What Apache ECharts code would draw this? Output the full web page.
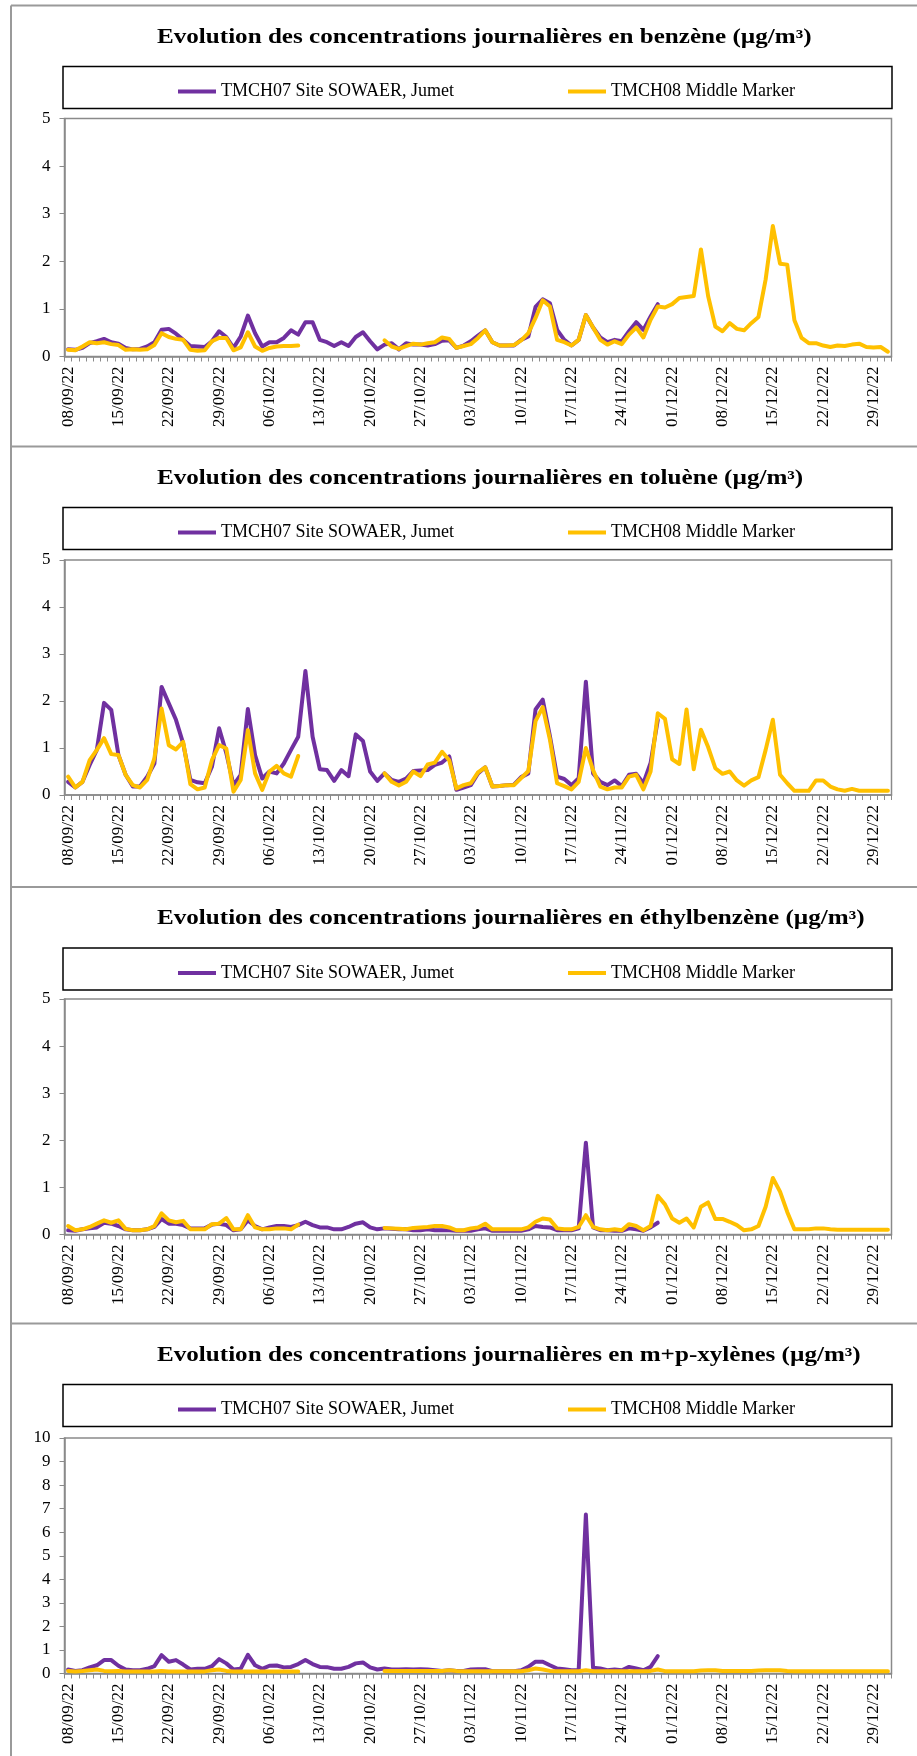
<!DOCTYPE html>
<html>
<head>
<meta charset="utf-8">
<script src="https://cdn.jsdelivr.net/npm/echarts@6/dist/echarts.min.js"></script>
<style>
  html, body { margin: 0; padding: 0; background: #ffffff; }
  #chart { width: 917px; height: 1756px; }
</style>
</head>
<body>
<div id="chart"></div>
<script>
// Daily concentrations (µg/m³), 08/09/22 to 31/12/22
const startDate = [2022, 8, 8];   // year, month index, day
const dayCount = 115;

const stationNames = ['TMCH07 Site SOWAER, Jumet', 'TMCH08 Middle Marker'];

const titles = [
  'Evolution des concentrations journalières en benzène (µg/m³)',
  'Evolution des concentrations journalières en toluène (µg/m³)',
  'Evolution des concentrations journalières en éthylbenzène (µg/m³)',
  'Evolution des concentrations journalières en m+p-xylènes (µg/m³)'
];

const yMax = [5, 5, 5, 10];

// ---- benzène ----
const benzeneJumet = [
  0.15,0.14,0.18,0.28,0.32,0.37,0.30,0.27,0.18,0.15,
  0.16,0.21,0.30,0.56,0.58,0.48,0.35,0.22,0.21,0.20,
  0.32,0.53,0.41,0.18,0.42,0.86,0.49,0.21,0.30,0.30,
  0.39,0.55,0.46,0.72,0.72,0.35,0.30,0.22,0.30,0.22,
  0.41,0.51,0.32,0.15,0.25,0.28,0.15,0.28,0.25,0.25,
  0.23,0.26,0.33,0.34,0.18,0.23,0.32,0.44,0.55,0.30,
  0.23,0.23,0.23,0.35,0.42,1.04,1.20,1.12,0.56,0.35,
  0.23,0.35,0.87,0.61,0.40,0.30,0.35,0.32,0.53,0.72,
  0.56,0.84,1.10
];
const benzeneMiddle = [
  0.14,0.13,0.21,0.30,0.28,0.30,0.26,0.24,0.14,0.15,
  0.14,0.15,0.24,0.49,0.41,0.37,0.35,0.14,0.12,0.13,
  0.32,0.39,0.39,0.13,0.19,0.51,0.21,0.12,0.18,0.21,
  0.22,0.22,0.23,
  null,null,null,null,null,null,null,null,null,null,null,
  0.34,0.21,0.16,0.22,0.27,0.25,0.28,0.30,0.40,0.37,0.18,0.22,0.26,0.39,
  0.55,0.30,0.23,0.23,0.24,0.34,0.49,0.81,1.18,1.05,
  0.35,0.30,0.23,0.35,0.87,0.61,0.35,0.25,0.32,0.26,
  0.46,0.61,0.40,0.77,1.05,1.03,1.10,1.23,1.25,1.27,
  2.25,1.27,0.63,0.53,0.70,0.58,0.55,0.70,0.83,1.62,
  2.74,1.95,1.93,0.76,0.39,0.28,0.28,0.23,0.20,0.23,
  0.22,0.25,0.27,0.20,0.19,0.20,0.10
];

// ---- toluène ----
const tolueneJumet = [
  0.28,0.16,0.28,0.64,0.96,1.96,1.81,0.85,0.43,0.18,
  0.18,0.39,0.67,2.30,1.95,1.60,1.10,0.32,0.27,0.25,
  0.60,1.42,0.89,0.21,0.43,1.83,0.85,0.35,0.50,0.46,
  0.67,0.96,1.24,2.64,1.24,0.55,0.53,0.30,0.53,0.40,
  1.29,1.15,0.50,0.30,0.46,0.32,0.28,0.35,0.51,0.52,
  0.53,0.64,0.69,0.82,0.11,0.16,0.21,0.46,0.59,0.18,
  0.19,0.21,0.22,0.38,0.46,1.82,2.03,1.25,0.39,0.34,
  0.21,0.36,2.41,0.46,0.28,0.21,0.31,0.19,0.43,0.45,
  0.25,0.68,1.60
];
const tolueneMiddle = [
  0.39,0.16,0.28,0.74,0.96,1.21,0.87,0.85,0.43,0.21,
  0.16,0.32,0.78,1.84,1.06,0.97,1.13,0.23,0.12,0.16,
  0.74,1.06,0.99,0.07,0.32,1.38,0.46,0.11,0.50,0.62,
  0.46,0.39,0.83,
  null,null,null,null,null,null,null,null,null,null,null,
  0.46,0.28,0.20,0.28,0.50,0.40,0.65,0.69,0.92,0.74,0.14,0.21,0.25,0.48,
  0.59,0.18,0.19,0.21,0.21,0.36,0.51,1.57,1.87,1.18,
  0.25,0.19,0.12,0.28,1.00,0.53,0.18,0.12,0.16,0.16,
  0.39,0.43,0.12,0.50,1.74,1.62,0.76,0.66,1.82,0.55,
  1.39,1.02,0.57,0.45,0.50,0.31,0.20,0.31,0.38,0.96,
  1.60,0.43,0.25,0.09,0.09,0.09,0.31,0.31,0.18,0.12,
  0.09,0.13,0.09,0.09,0.09,0.09,0.09
];

// ---- éthylbenzène ----
const ethylbenzeneJumet = [
  0.09,0.08,0.11,0.13,0.15,0.25,0.23,0.18,0.11,0.09,
  0.09,0.11,0.16,0.33,0.23,0.23,0.20,0.13,0.13,0.13,
  0.21,0.23,0.20,0.09,0.11,0.30,0.18,0.11,0.15,0.18,
  0.18,0.16,0.20,0.27,0.20,0.15,0.15,0.11,0.11,0.16,
  0.23,0.26,0.15,0.11,0.13,0.12,0.11,0.11,0.09,0.09,
  0.11,0.09,0.09,0.09,0.08,0.08,0.08,0.11,0.13,0.08,
  0.08,0.08,0.08,0.08,0.11,0.18,0.16,0.15,0.09,0.09,
  0.09,0.13,1.95,0.15,0.09,0.09,0.08,0.08,0.13,0.11,
  0.08,0.15,0.25
];
const ethylbenzeneMiddle = [
  0.18,0.09,0.11,0.16,0.23,0.30,0.25,0.30,0.12,0.09,
  0.09,0.11,0.18,0.45,0.30,0.26,0.29,0.11,0.11,0.11,
  0.22,0.23,0.35,0.11,0.11,0.41,0.15,0.11,0.11,0.13,
  0.13,0.11,0.21,
  null,null,null,null,null,null,null,null,null,null,null,
  0.14,0.13,0.12,0.11,0.14,0.15,0.16,0.18,0.18,0.15,0.09,0.09,0.13,0.15,
  0.23,0.11,0.11,0.11,0.11,0.11,0.15,0.27,0.34,0.32,
  0.13,0.11,0.11,0.16,0.41,0.16,0.11,0.09,0.11,0.09,
  0.22,0.18,0.09,0.18,0.82,0.64,0.34,0.25,0.34,0.15,
  0.59,0.68,0.33,0.33,0.27,0.20,0.09,0.11,0.18,0.59,
  1.20,0.91,0.48,0.11,0.11,0.11,0.13,0.13,0.11,0.10,
  0.10,0.10,0.10,0.10,0.10,0.10,0.10
];

// ---- m+p-xylènes ----
const xylenesJumet = [
  0.17,0.11,0.14,0.26,0.35,0.57,0.57,0.33,0.17,0.14,
  0.14,0.20,0.31,0.78,0.50,0.57,0.38,0.17,0.20,0.20,
  0.31,0.61,0.43,0.17,0.20,0.79,0.35,0.20,0.33,0.34,
  0.26,0.28,0.40,0.57,0.40,0.28,0.27,0.20,0.20,0.28,
  0.43,0.47,0.26,0.17,0.21,0.17,0.17,0.18,0.17,0.18,
  0.17,0.14,0.11,0.14,0.11,0.11,0.17,0.18,0.18,0.10,
  0.10,0.10,0.10,0.14,0.28,0.50,0.50,0.35,0.21,0.18,
  0.14,0.14,6.75,0.24,0.21,0.14,0.17,0.14,0.28,0.21,
  0.14,0.28,0.74
];
const xylenesMiddle = [
  0.11,0.09,0.11,0.14,0.17,0.11,0.10,0.11,0.09,0.09,
  0.09,0.09,0.09,0.11,0.09,0.09,0.09,0.09,0.09,0.09,
  0.14,0.17,0.11,0.09,0.09,0.09,0.09,0.09,0.09,0.09,
  0.09,0.09,0.09,
  null,null,null,null,null,null,null,null,null,null,null,
  0.11,0.11,0.11,0.11,0.11,0.11,0.11,0.11,0.11,0.14,0.11,0.10,0.10,0.10,
  0.10,0.10,0.10,0.10,0.10,0.10,0.14,0.21,0.17,0.11,
  0.10,0.10,0.10,0.10,0.14,0.10,0.10,0.10,0.10,0.10,
  0.10,0.10,0.10,0.11,0.17,0.10,0.10,0.10,0.10,0.10,
  0.13,0.14,0.14,0.11,0.11,0.11,0.11,0.11,0.13,0.14,
  0.14,0.14,0.11,0.10,0.10,0.10,0.10,0.10,0.10,0.10,
  0.10,0.10,0.10,0.10,0.10,0.10,0.10
];

const seriesByPanel = [
  [benzeneJumet, benzeneMiddle],
  [tolueneJumet, tolueneMiddle],
  [ethylbenzeneJumet, ethylbenzeneMiddle],
  [xylenesJumet, xylenesMiddle]
];

// ---- layout ----
const W = 917;
const frameTops = [5.5, 446.5, 887, 1323.5];
const plotBoxes = [
  { top: 118.5, height: 238 },
  { top: 560, height: 235 },
  { top: 999, height: 235.5 },
  { top: 1438, height: 235.5 }
];
const plotLeft = 64.5;
const plotRight = 25.5;
const lineColors = ['#7030A0', '#FFC000'];
const axisGray = '#8a8a8a';
const serif = '"Liberation Serif", "Times New Roman", serif';

// category labels dd/mm/yy
const pad2 = n => (n < 10 ? '0' : '') + n;
const dates = [];
for (let i = 0; i < dayCount; i++) {
  const d = new Date(startDate[0], startDate[1], startDate[2] + i);
  dates.push(pad2(d.getDate()) + '/' + pad2(d.getMonth() + 1) + '/' + String(d.getFullYear()).slice(2));
}

const grid = [], xAxis = [], yAxis = [], series = [], legend = [], graphic = [];

// panel frames
graphic.push({
  type: 'line', silent: true,
  shape: { x1: 11, y1: frameTops[0], x2: 11, y2: 1756 },
  style: { stroke: '#9a9a9a', lineWidth: 2 }
});

frameTops.forEach((T, p) => {
  graphic.push({
    type: 'line', silent: true,
    shape: { x1: 11, y1: T, x2: W, y2: T },
    style: { stroke: '#9a9a9a', lineWidth: 2 }
  });
  // title
  graphic.push({
    type: 'text', silent: true,
    x: 157, y: T + 32, scaleX: 1.255, scaleY: 1,
    style: {
      text: titles[p],
      font: 'bold 20px ' + serif,
      fill: '#000',
      align: 'left',
      verticalAlign: 'middle'
    }
  });
  // legend frame
  graphic.push({
    type: 'rect', silent: true,
    shape: { x: 63, y: T + 61, width: 829, height: 42 },
    style: { fill: 'none', stroke: '#000', lineWidth: 1.5 }
  });

  legend.push({
    left: 173, top: T + 71,
    icon: 'rect',
    itemWidth: 38, itemHeight: 4, itemGap: 114,
    data: stationNames,
    selectedMode: false,
    textStyle: { fontFamily: serif, fontSize: 18, color: '#000', lineHeight: 20 }
  });

  grid.push({
    left: plotLeft, right: plotRight,
    top: plotBoxes[p].top, height: plotBoxes[p].height,
    show: true, borderColor: axisGray, borderWidth: 1.5,
    containLabel: false
  });

  xAxis.push({
    type: 'category', gridIndex: p, data: dates, boundaryGap: true,
    axisLine: { show: true, lineStyle: { color: axisGray, width: 1.5 } },
    axisTick: { show: true, interval: 0, length: 5, alignWithLabel: false, lineStyle: { color: axisGray, width: 1 } },
    axisLabel: { interval: 6, rotate: 90, margin: 10, fontFamily: serif, fontSize: 17, color: '#000' },
    splitLine: { show: false }
  });

  yAxis.push({
    type: 'value', gridIndex: p, min: 0, max: yMax[p], interval: 1,
    axisLine: { show: true, lineStyle: { color: axisGray, width: 1.5 } },
    axisTick: { show: true, length: 5, lineStyle: { color: axisGray, width: 1 } },
    axisLabel: { margin: 14, fontFamily: serif, fontSize: 17, color: '#000' },
    splitLine: { show: false }
  });

  seriesByPanel[p].forEach((values, s) => {
    series.push({
      name: stationNames[s],
      type: 'line',
      xAxisIndex: p, yAxisIndex: p,
      data: values,
      symbol: 'none', showSymbol: false,
      connectNulls: false,
      color: lineColors[s],
      lineStyle: { color: lineColors[s], width: 4, join: 'round', cap: 'round' },
      z: 2 + s,
      animation: false
    });
  });
});

const chart = echarts.init(document.getElementById('chart'), null, { renderer: 'canvas' });
chart.setOption({
  backgroundColor: '#ffffff',
  animation: false,
  grid, xAxis, yAxis, series, legend, graphic
});
</script>
</body>
</html>
